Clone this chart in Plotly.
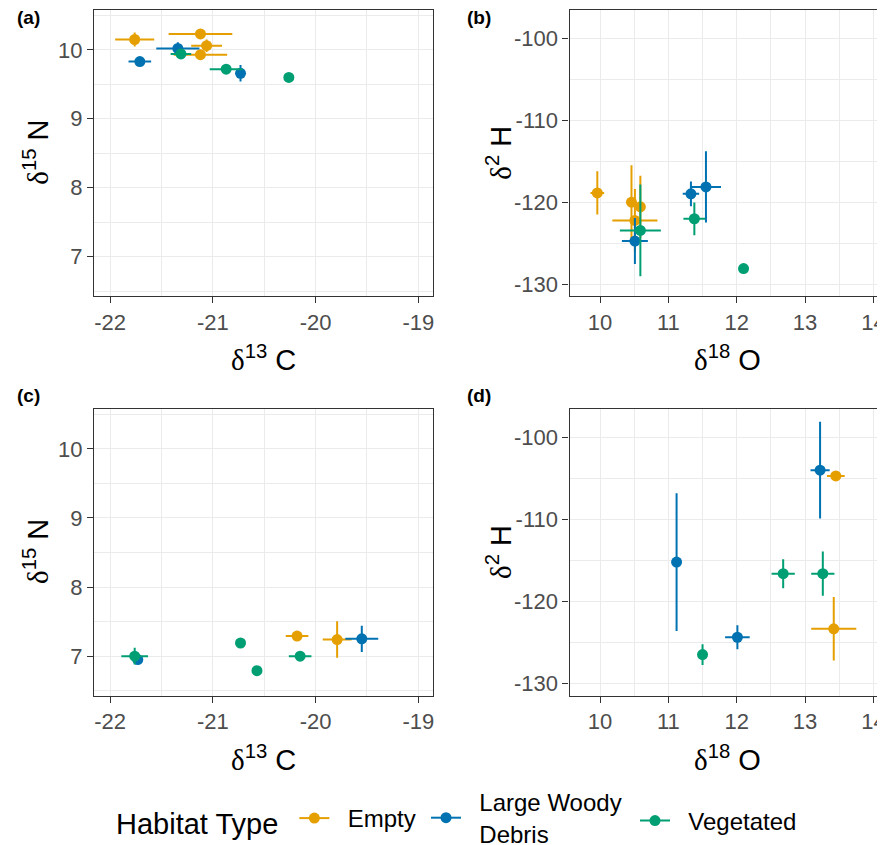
import plotly.graph_objects as go

# ---------------- data ----------------
habitat_types = ["Empty", "Large Woody Debris", "Vegetated"]
habitat_labels = ["Empty", "Large Woody<br>Debris", "Vegetated"]
habitat_colors = ["#E69F00", "#0072B2", "#009E73"]

# Panel (a): d13C vs d15N
a_habitat = ["Empty", "Empty", "Empty", "Empty",
             "Large Woody Debris", "Large Woody Debris", "Large Woody Debris",
             "Vegetated", "Vegetated", "Vegetated"]
a_d13C = [-21.76, -21.12, -21.06, -21.12, -21.71, -21.34, -20.73, -21.31, -20.87, -20.26]
a_d15N = [10.15, 10.23, 10.06, 9.93, 9.83, 10.02, 9.66, 9.94, 9.72, 9.60]
a_d13C_sd = [0.19, 0.31, 0.15, 0.26, 0.11, 0.21, 0.03, 0.10, 0.16, 0.0]
a_d15N_sd = [0.10, 0.04, 0.09, 0.07, 0.03, 0.09, 0.12, 0.03, 0.04, 0.0]

# Panel (b): d18O vs d2H
b_habitat = ["Empty", "Empty", "Empty", "Empty",
             "Large Woody Debris", "Large Woody Debris", "Large Woody Debris",
             "Vegetated", "Vegetated", "Vegetated"]
b_d18O = [9.96, 10.46, 10.59, 10.51, 10.51, 11.33, 11.55, 10.59, 11.38, 12.10]
b_d2H = [-118.86, -120.0, -120.56, -122.23, -124.74, -118.98, -118.13, -123.44, -122.02, -128.1]
b_d18O_sd = [0.10, 0.06, 0.05, 0.33, 0.19, 0.12, 0.22, 0.30, 0.16, 0.0]
b_d2H_sd = [2.64, 4.5, 3.8, 3.85, 2.8, 1.5, 4.36, 5.6, 2.0, 0.0]

# Panel (c): d13C vs d15N
c_habitat = ["Empty", "Empty",
             "Large Woody Debris", "Large Woody Debris",
             "Vegetated", "Vegetated", "Vegetated", "Vegetated"]
c_d13C = [-20.18, -19.79, -21.73, -19.55, -21.76, -20.73, -20.57, -20.15]
c_d15N = [7.29, 7.24, 6.95, 7.25, 7.00, 7.19, 6.79, 7.00]
c_d13C_sd = [0.11, 0.14, 0.05, 0.16, 0.13, 0.03, 0.03, 0.11]
c_d15N_sd = [0.03, 0.265, 0.03, 0.19, 0.12, 0.03, 0.04, 0.02]

# Panel (d): d18O vs d2H
d_habitat = ["Empty", "Empty",
             "Large Woody Debris", "Large Woody Debris", "Large Woody Debris",
             "Vegetated", "Vegetated", "Vegetated"]
d_d18O = [13.45, 13.42, 11.12, 12.01, 13.22, 11.50, 12.68, 13.26]
d_d2H = [-104.69, -123.32, -115.19, -124.35, -103.99, -126.46, -116.6, -116.6]
d_d18O_sd = [0.13, 0.33, 0.02, 0.18, 0.14, 0.05, 0.17, 0.17]
d_d2H_sd = [0.4, 3.87, 8.4, 1.47, 5.9, 1.26, 1.77, 2.7]

# tick labels (plain hyphen minus as in the reference)
C_ticks = [-22, -21, -20, -19]
C_ticklabels = ["-22", "-21", "-20", "-19"]
N_ticks = [7, 8, 9, 10]
N_ticklabels = ["7", "8", "9", "10"]
O_ticks = [10, 11, 12, 13, 14]
O_ticklabels = ["10", "11", "12", "13", "14"]
H_ticks = [-130, -120, -110, -100]
H_ticklabels = ["-130", "-120", "-110", "-100"]

# ---------------- figure ----------------
W, H = 885, 845
OFF = 8  # page body margin offset
FONT = "Liberation Sans, Arial, sans-serif"
SERIF = "Liberation Serif, DejaVu Serif, serif"
fig = go.Figure()


def add_panel(hab, xv, yv, xe, ye, xa, ya):
    for h, col in zip(habitat_types, habitat_colors):
        idx = [i for i, v in enumerate(hab) if v == h]
        fig.add_trace(go.Scatter(
            x=[xv[i] for i in idx], y=[yv[i] for i in idx],
            mode="markers", showlegend=False, xaxis=xa, yaxis=ya,
            marker=dict(color=col, size=11, line=dict(width=0)),
            error_x=dict(type="data", array=[xe[i] for i in idx], color=col,
                         thickness=2, width=0),
            error_y=dict(type="data", array=[ye[i] for i in idx], color=col,
                         thickness=2, width=0),
        ))


add_panel(a_habitat, a_d13C, a_d15N, a_d13C_sd, a_d15N_sd, "x", "y")
add_panel(b_habitat, b_d18O, b_d2H, b_d18O_sd, b_d2H_sd, "x2", "y2")
add_panel(c_habitat, c_d13C, c_d15N, c_d13C_sd, c_d15N_sd, "x3", "y3")
add_panel(d_habitat, d_d18O, d_d2H, d_d18O_sd, d_d2H_sd, "x4", "y4")

# legend entries, one legend box each
legend_ids = ["legend", "legend2", "legend3"]
NB = "\u00a0\u00a0"
for lab, col, lg in zip(habitat_labels, habitat_colors, legend_ids):
    name = NB + lab.replace("<br>", "<br>" + NB)
    fig.add_trace(go.Scatter(x=[None], y=[None], mode="lines+markers", name=name,
                             marker=dict(color=col, size=11),
                             line=dict(color=col, width=2),
                             xaxis="x", yaxis="y", legend=lg, showlegend=True))


def px_x(p):
    return (p - OFF) / W


def px_y(p):
    return 1 - (p - OFF) / H


GRID = "#EBEBEB"
LINE = "#333333"
tickfont = dict(family=FONT, size=22, color="#4D4D4D")


def axis(domain, rng, tv, tt, minor, anchor, mirror=True):
    return dict(domain=domain, range=rng, tickmode="array", tickvals=tv, ticktext=tt,
                anchor=anchor,
                showgrid=True, gridcolor=GRID, gridwidth=1.3, zeroline=False,
                showline=True, linecolor=LINE, linewidth=1.2, mirror=mirror,
                ticks="outside", ticklen=6, tickwidth=1.2, tickcolor=LINE,
                tickfont=tickfont,
                minor=dict(tickmode="linear", dtick=minor, tick0=0, showgrid=True,
                           gridcolor=GRID, gridwidth=0.7),
                fixedrange=True)


xd_left = [px_x(94), px_x(433)]
xd_right = [px_x(569.5), px_x(885)]
yd_top = [px_y(296), px_y(9.5)]
yd_bot = [px_y(695.5), px_y(408.5)]

xr_C = [-22.156, -18.857]
yr_N = [6.43, 10.585]
xr_O = [9.553, 14.17]
yr_H = [-131.45, -96.47]

legend_common = dict(orientation="h", yanchor="middle", bgcolor="rgba(0,0,0,0)",
                     font=dict(family=FONT, size=24, color="black"),
                     itemwidth=30, valign="middle", borderwidth=0)

LEG_Y = 821
fig.update_layout(
    width=W, height=H,
    margin=dict(l=0, r=0, t=0, b=0, autoexpand=False),
    paper_bgcolor="white", plot_bgcolor="white",
    font=dict(family=FONT, color="black"),
    xaxis=axis(xd_left, xr_C, C_ticks, C_ticklabels, 0.5, "y"),
    yaxis=axis(yd_top, yr_N, N_ticks, N_ticklabels, 0.5, "x"),
    xaxis2=axis(xd_right, xr_O, O_ticks, O_ticklabels, 0.5, "y2"),
    yaxis2=axis(yd_top, yr_H, H_ticks, H_ticklabels, 5, "x2", mirror=False),
    xaxis3=axis(xd_left, xr_C, C_ticks, C_ticklabels, 0.5, "y3"),
    yaxis3=axis(yd_bot, yr_N, N_ticks, N_ticklabels, 0.5, "x3"),
    xaxis4=axis(xd_right, xr_O, O_ticks, O_ticklabels, 0.5, "y4"),
    yaxis4=axis(yd_bot, yr_H, H_ticks, H_ticklabels, 5, "x4", mirror=False),
    showlegend=True,
    legend=dict(legend_common, x=px_x(114), xanchor="left", y=px_y(LEG_Y - 1),
                title=dict(text="Habitat Type\u00a0", side="left",
                           font=dict(family=FONT, size=29, color="black"))),
    legend2=dict(legend_common, x=px_x(426), xanchor="left", y=px_y(LEG_Y - 3)),
    legend3=dict(legend_common, x=px_x(635), xanchor="left", y=px_y(LEG_Y)),
)

annotations = []
# panel tags
for tag, x, y in [("(a)", 15, 18), ("(b)", 465, 18), ("(c)", 15, 395), ("(d)", 465, 395)]:
    annotations.append(dict(text="<b>" + tag + "</b>", x=px_x(x), y=px_y(y),
                            xref="paper", yref="paper", showarrow=False,
                            xanchor="left", yanchor="middle",
                            font=dict(family=FONT, size=19, color="black")))
# axis titles
title_font = dict(family=FONT, size=29, color="black")
DELTA = "<span style='font-family:%s'>δ</span>" % SERIF
for txt, x, y in [(DELTA + "<sup>13</sup> C", 263.5, 358), (DELTA + "<sup>18</sup> O", 727, 358),
                  (DELTA + "<sup>13</sup> C", 263.5, 758), (DELTA + "<sup>18</sup> O", 727, 758)]:
    annotations.append(dict(text=txt, x=px_x(x), y=px_y(y), xref="paper", yref="paper",
                            showarrow=False, xanchor="center", yanchor="middle",
                            font=title_font))
for txt, x, y in [(DELTA + "<sup>15</sup> N", 36, 152.7), (DELTA + "<sup>2</sup> H", 499, 152.7),
                  (DELTA + "<sup>15</sup> N", 36, 552), (DELTA + "<sup>2</sup> H", 499, 552)]:
    annotations.append(dict(text=txt, x=px_x(x), y=px_y(y), xref="paper", yref="paper",
                            showarrow=False, xanchor="center", yanchor="middle",
                            textangle=-90, font=title_font))
fig.update_layout(annotations=annotations)

fig.write_html("out.html")
